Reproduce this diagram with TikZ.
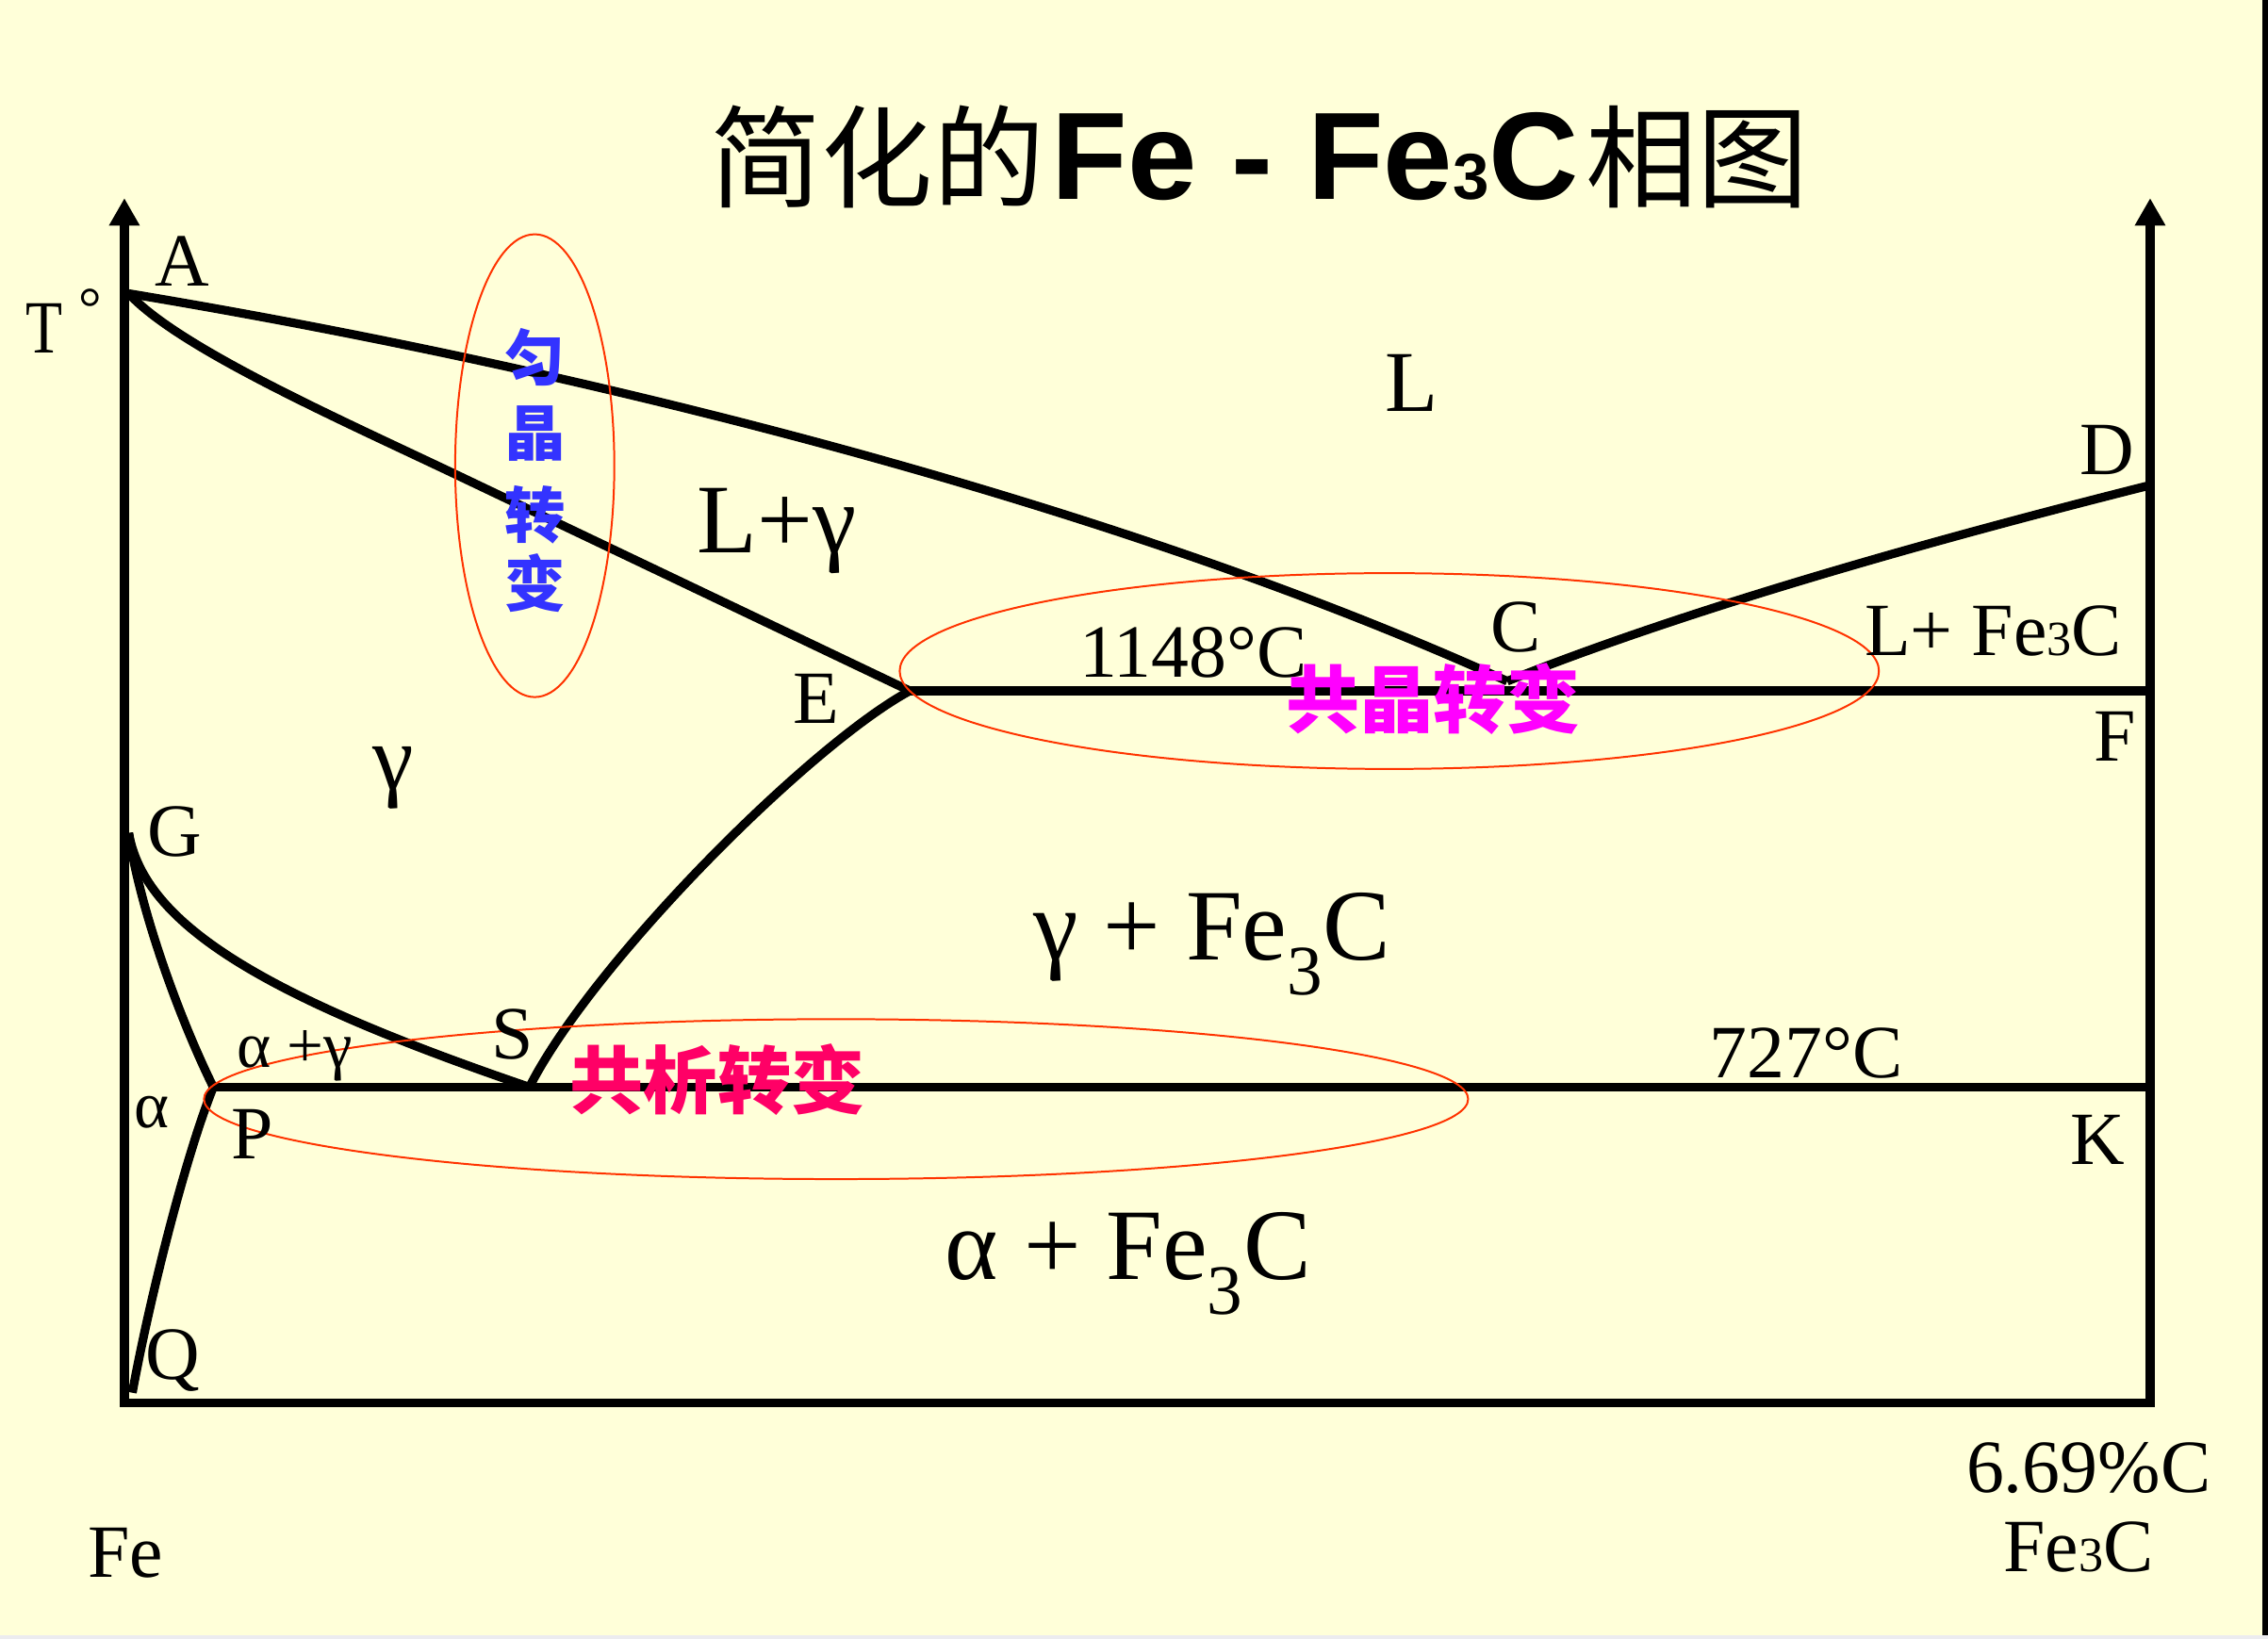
\documentclass[tikz,border=0pt]{standalone}
\usepackage{fontspec}
\setmainfont{Liberation Serif}
\newfontfamily\cjk{Noto Sans CJK SC}
\newfontfamily\arialf{Liberation Sans}
\usetikzlibrary{arrows.meta}
\definecolor{bgyellow}{HTML}{FFFFD9}
\definecolor{ellred}{HTML}{FF3300}
\definecolor{jblue}{HTML}{3333FF}
\definecolor{jmag}{HTML}{FF00FF}
\definecolor{jpink}{HTML}{FF0066}
\definecolor{edgegray}{HTML}{ECECEF}
\newcommand{\fsz}[1]{\fontsize{#1}{#1}\selectfont}
\newcommand{\smallthree}[1]{{\fsz{#1}3}}
\begin{document}
\begin{tikzpicture}[x=1pt,y=-1pt,
  phase/.style={line width=6pt},
  axisline/.style={line width=6pt,{Triangle[width=20pt,length=19pt]}-{Triangle[width=20pt,length=19pt]}},
  ell/.style={draw=ellred,line width=1.3pt},
  lab/.style={inner sep=0pt,font=\fsz{52}},
  big/.style={inner sep=0pt,font=\fsz{70}},
  cjkv/.style={inner sep=0pt,font=\cjk\bfseries\fsz{42},text=jblue},
  cjkh/.style={inner sep=0pt,font=\cjk\bfseries\fsz{51}},
  titlecjk/.style={inner sep=0pt,anchor=base west,font=\cjk\fsz{77}},
  titlelat/.style={inner sep=0pt,anchor=base west,font=\arialf\bfseries\fsz{86}}]
% background
\fill[bgyellow] (0,0) rectangle (1568,1133);
\fill[black] (1564.1,0) rectangle (1568,1131);
\fill[edgegray] (0,1131) rectangle (1568,1133);
\useasboundingbox (0,0) rectangle (1568,1133);
% points
\coordinate (A) at (89,203);
\coordinate (C) at (1042,471);
\coordinate (D) at (1486.5,335.5);
\coordinate (E) at (629,477.7);
\coordinate (F) at (1486.5,477.7);
\coordinate (G) at (89,576);
\coordinate (P) at (147.5,751.7);
\coordinate (S) at (366,751.7);
\coordinate (K) at (1486.5,751.7);
\coordinate (Q) at (91.5,963);
\coordinate (O) at (86,970);
\coordinate (R) at (1486.5,970);
\coordinate (Ytop) at (86,137);
\coordinate (Rtop) at (1486.5,137);
\coordinate (Sol) at (316,328.5);
% axes
\draw[axisline] (Ytop) -- (O) -- (R) -- (Rtop);
% liquidus ACD
\draw[phase] (A) .. controls (420,258) and (780,352) .. (C);
\draw[phase] (C) .. controls (1120,440) and (1250,395) .. (D);
% solidus AE, ECF
\draw[phase] (A) .. controls (124,241) and (236,290.4) .. (Sol) -- (E);
\draw[phase] (E) -- (F);
% ES
\draw[phase] (E) .. controls (560,515) and (410,665) .. (S);
% GS
\draw[phase] (G) .. controls (100,640) and (185,690) .. (S);
% GP, PQ
\draw[phase] (G) .. controls (96,625) and (122,700) .. (P);
\draw[phase] (P) .. controls (128,800) and (103,900) .. (Q);
% PSK
\draw[phase] (P) -- (K);
% ellipses
\draw[ell] (369.7,322) ellipse [x radius=55pt,y radius=160pt];
\draw[ell] (960.5,464) ellipse [x radius=338.5pt,y radius=67.7pt];
\draw[ell] (578,760) ellipse [x radius=437pt,y radius=55.3pt];
% title
\node[titlecjk] (t1) at (491,138) {简化的};
\node[titlelat] (t2) at (727,138) {Fe - Fe{\fsz{45}3}C};
\node[titlecjk] (t3) at (1096,138) {相图};
% labels
\node[lab,xscale=0.8] (lT) at (30.5,227.3) {T};
\node[inner sep=0pt,font=\fsz{40}] (ldeg) at (62.5,213) {°};
\node[lab] (lA) at (126,180.5) {A};
\node[inner sep=0pt,font=\fsz{60}] (lL) at (976,265) {L};
\node[lab] (lD) at (1457,311) {D};
\node[inner sep=0pt,font=\fsz{68}] (lLg) at (537,367) {L+γ};
\node[lab] (l1148) at (825,451) {1148°C};
\node[lab] (lC) at (1048,434) {C};
\node[lab] (lLF) at (1378,436.5) {L+ Fe\smallthree{34}C};
\node[lab] (lE) at (564,483) {E};
\node[lab] (lF) at (1462.5,509) {F};
\node[inner sep=0pt,font=\fsz{64}] (lg) at (272,538) {γ};
\node[lab] (lG) at (120.5,575) {G};
\node[big] (lgF) at (838,653) {γ + Fe\textsubscript{3}C};
\node[lab] (lS) at (354.4,715.4) {S};
\node[inner sep=0pt,font=\fsz{45}] (lag) at (203.7,730) {α +γ};
\node[lab] (l727) at (1248.6,728) {727°C};
\node[inner sep=0pt,font=\fsz{46}] (la) at (104.8,769.4) {α};
\node[lab] (lP) at (174.7,784) {P};
\node[lab] (lK) at (1450.4,788) {K};
\node[big] (laF) at (780,874) {α + Fe\textsubscript{3}C};
\node[lab] (lQ) at (119.5,941) {Q};
\node[lab] (lFe) at (87,1073.6) {Fe};
\node[lab] (l669) at (1444,1015) {6.69\%C};
\node[lab] (lFe3C) at (1437,1070) {Fe\smallthree{34}C};
% chinese labels
\node[cjkv] (v1) at (370,247) {匀};
\node[cjkv] (v2) at (370,299.5) {晶};
\node[cjkv] (v3) at (370,356) {转};
\node[cjkv] (v4) at (370,403) {变};
\node[cjkh,text=jmag] (eut) at (991,483) {共晶转变};
\node[cjkh,text=jpink] (eutd) at (496,746.4) {共析转变};
\end{tikzpicture}
\end{document}
